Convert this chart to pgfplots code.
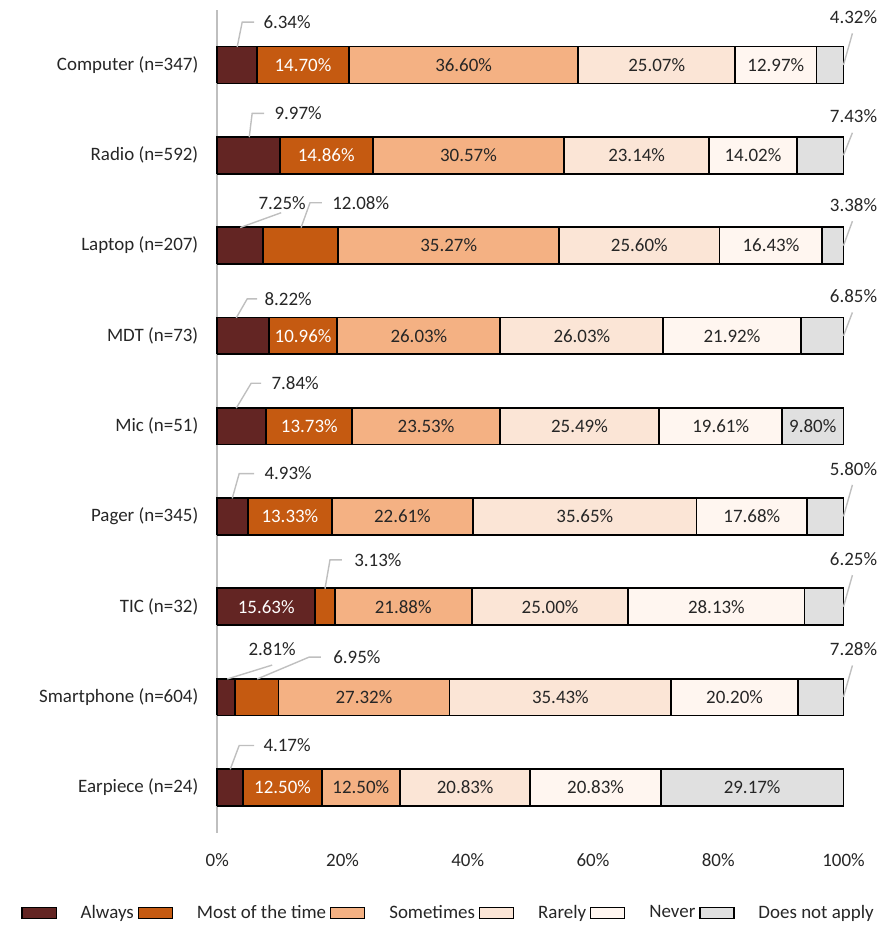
\documentclass[border=0pt]{standalone}
\usepackage{fontspec}
\setmainfont{Carlito}
\usepackage{pgfplots}
\pgfplotsset{compat=1.18}

\definecolor{cAlways}{HTML}{632523}
\definecolor{cMost}{HTML}{C55A11}
\definecolor{cSome}{HTML}{F4B183}
\definecolor{cRare}{HTML}{FBE5D6}
\definecolor{cNever}{HTML}{FFF6F0}
\definecolor{cDna}{HTML}{E0E0E0}
\definecolor{cLead}{HTML}{BFBFBF}
\definecolor{cTxt}{HTML}{262626}

% one segment: colour, left, right, bottom, top
\newcommand{\seg}[5]{\addplot[fill=#1, draw=black, line width=0.9pt, line join=miter, forget plot] coordinates {(#2,#4) (#3,#4) (#3,#5) (#2,#5) (#2,#4)};}
% one stacked row: bottom, top, then the running totals of the six shares
\newcommand{\barrow}[8]{%
  \seg{cAlways}{0}{#3}{#1}{#2}\seg{cMost}{#3}{#4}{#1}{#2}\seg{cSome}{#4}{#5}{#1}{#2}%
  \seg{cRare}{#5}{#6}{#1}{#2}\seg{cNever}{#6}{#7}{#1}{#2}\seg{cDna}{#7}{#8}{#1}{#2}}
\newcommand{\inw}[3]{\node[text=white, inner sep=0pt] at (axis cs:#1,#2) {#3\%};}
\newcommand{\inb}[3]{\node[text=cTxt, inner sep=0pt] at (axis cs:#1,#2) {#3\%};}
\newcommand{\outw}[3]{\node[text=cTxt, inner sep=1pt, anchor=west] at (axis cs:#1,#2) {#3\%};}
\newcommand{\outc}[3]{\node[text=cTxt, inner sep=1pt] at (axis cs:#1,#2) {#3\%};}

\begin{document}
\begin{tikzpicture}[font=\fontsize{9.5}{11}\selectfont]
% rows: 8 = Computer (top) ... 0 = Earpiece (bottom)
\begin{axis}[
  scale only axis, width=314pt, height=407.5pt, clip=false,
  xmin=0, xmax=100, ymin=-0.5, ymax=8.5,
  ytick={0,1,2,3,4,5,6,7,8},
  yticklabels={Earpiece (n=24),Smartphone (n=604),TIC (n=32),Pager (n=345),Mic (n=51),MDT (n=73),Laptop (n=207),Radio (n=592),Computer (n=347)},
  xtick={0,20,40,60,80,100},
  xticklabels={0\%,20\%,40\%,60\%,80\%,100\%},
  axis line style={draw=none},
  major tick length=0pt,
  tick label style={text=cTxt},
  yticklabel style={xshift=-6pt},
  xticklabel style={yshift=-7pt},
  legend style={at={(0.371,-0.099)}, anchor=center, draw=none, text=cTxt,
    /tikz/every odd column/.append style={column sep=10pt}},
  legend columns=6,
]
\draw[cLead, line width=0.8pt] (axis cs:0,-0.5) -- (axis cs:0,8.61);

% running totals (%) of Always, Most of the time, Sometimes, Rarely, Never, Does not apply
\barrow{7.796}{8.204}{6.34}{21.04}{57.64}{82.71}{95.68}{100}
\barrow{6.796}{7.204}{9.97}{24.83}{55.40}{78.54}{92.56}{100}
\barrow{5.796}{6.204}{7.25}{19.33}{54.60}{80.20}{96.63}{100}
\barrow{4.796}{5.204}{8.22}{19.18}{45.21}{71.24}{93.16}{100}
\barrow{3.796}{4.204}{7.84}{21.57}{45.10}{70.59}{90.20}{100}
\barrow{2.796}{3.204}{4.93}{18.26}{40.87}{76.52}{94.20}{100}
\barrow{1.796}{2.204}{15.63}{18.76}{40.64}{65.64}{93.77}{100}
\barrow{0.796}{1.204}{2.81}{9.76}{37.08}{72.51}{92.71}{100}
\barrow{-0.204}{0.204}{4.17}{16.67}{29.17}{50.00}{70.83}{100}

\addlegendimage{area legend, fill=cAlways, draw=black, line width=0.6pt}
\addlegendentry{Always}
\addlegendimage{area legend, fill=cMost, draw=black, line width=0.6pt}
\addlegendentry{Most of the time}
\addlegendimage{area legend, fill=cSome, draw=black, line width=0.6pt}
\addlegendentry{Sometimes}
\addlegendimage{area legend, fill=cRare, draw=black, line width=0.6pt}
\addlegendentry{Rarely}
\addlegendimage{area legend, fill=cNever, draw=black, line width=0.6pt}
\addlegendentry{Never}
\addlegendimage{area legend, fill=cDna, draw=black, line width=0.6pt}
\addlegendentry{Does not apply}

% values inside the segments
\inw{13.69}{8}{14.70}\inb{39.34}{8}{36.60}\inb{70.175}{8}{25.07}\inb{89.195}{8}{12.97}
\inw{17.40}{7}{14.86}\inb{40.115}{7}{30.57}\inb{66.97}{7}{23.14}\inb{85.55}{7}{14.02}
\inb{36.965}{6}{35.27}\inb{67.40}{6}{25.60}\inb{88.415}{6}{16.43}
\inw{13.70}{5}{10.96}\inb{32.195}{5}{26.03}\inb{58.225}{5}{26.03}\inb{82.20}{5}{21.92}
\inw{14.705}{4}{13.73}\inb{33.335}{4}{23.53}\inb{57.845}{4}{25.49}\inb{80.395}{4}{19.61}\inb{95.10}{4}{9.80}
\inw{11.595}{3}{13.33}\inb{29.565}{3}{22.61}\inb{58.695}{3}{35.65}\inb{85.36}{3}{17.68}
\inw{7.815}{2}{15.63}\inb{29.70}{2}{21.88}\inb{53.14}{2}{25.00}\inb{79.705}{2}{28.13}
\inb{23.42}{1}{27.32}\inb{54.795}{1}{35.43}\inb{82.61}{1}{20.20}
\inw{10.42}{0}{12.50}\inb{22.92}{0}{12.50}\inb{39.585}{0}{20.83}\inb{60.415}{0}{20.83}\inb{85.415}{0}{29.17}

% leader lines for the small shares
\draw[cLead, line width=0.7pt] (axis cs:3.18,8.2) -- (axis cs:3.98,8.475) -- (axis cs:5.89,8.475);
\draw[cLead, line width=0.7pt] (axis cs:5.10,7.2) -- (axis cs:5.57,7.464) -- (axis cs:7.48,7.464);
\draw[cLead, line width=0.7pt] (axis cs:3.66,6.2) -- (axis cs:10.2,6.364);
\draw[cLead, line width=0.7pt] (axis cs:13.38,6.2) -- (axis cs:14.81,6.475) -- (axis cs:16.72,6.475);
\draw[cLead, line width=0.7pt] (axis cs:3.03,5.2) -- (axis cs:4.78,5.41) -- (axis cs:6.37,5.41);
\draw[cLead, line width=0.7pt] (axis cs:3.03,4.2) -- (axis cs:5.41,4.475) -- (axis cs:7.01,4.475);
\draw[cLead, line width=0.7pt] (axis cs:2.39,3.2) -- (axis cs:3.5,3.475) -- (axis cs:5.89,3.475);
\draw[cLead, line width=0.7pt] (axis cs:17.2,2.2) -- (axis cs:18.0,2.52) -- (axis cs:19.9,2.52);
\draw[cLead, line width=0.7pt] (axis cs:1.59,1.2) -- (axis cs:8.76,1.354);
\draw[cLead, line width=0.7pt] (axis cs:6.37,1.2) -- (axis cs:14.65,1.442) -- (axis cs:16.56,1.442);
\draw[cLead, line width=0.7pt] (axis cs:2.07,0.2) -- (axis cs:3.5,0.464) -- (axis cs:5.89,0.464);
\draw[cLead, line width=0.7pt] (axis cs:100,8) -- (axis cs:101.43,8.35);
\draw[cLead, line width=0.7pt] (axis cs:100,7) -- (axis cs:101.43,7.25);
\draw[cLead, line width=0.7pt] (axis cs:100,6) -- (axis cs:101.43,6.27);
\draw[cLead, line width=0.7pt] (axis cs:100,5) -- (axis cs:101.43,5.26);
\draw[cLead, line width=0.7pt] (axis cs:100,3) -- (axis cs:101.43,3.35);
\draw[cLead, line width=0.7pt] (axis cs:100,2) -- (axis cs:101.43,2.35);
\draw[cLead, line width=0.7pt] (axis cs:100,1) -- (axis cs:101.43,1.35);

\outw{7.0}{8.475}{6.34}
\outw{8.76}{7.464}{9.97}
\outc{10.35}{6.475}{7.25}
\outw{18.0}{6.475}{12.08}
\outw{7.17}{5.41}{8.22}
\outw{8.28}{4.475}{7.84}
\outw{7.17}{3.475}{4.93}
\outw{21.5}{2.52}{3.13}
\outc{8.76}{1.53}{2.81}
\outw{18.15}{1.442}{6.95}
\outw{7.0}{0.464}{4.17}
\outc{101.6}{8.53}{4.32}
\outc{101.6}{7.43}{7.43}
\outc{101.6}{6.45}{3.38}
\outc{101.6}{5.44}{6.85}
\outc{101.6}{3.53}{5.80}
\outc{101.6}{2.53}{6.25}
\outc{101.6}{1.53}{7.28}

\path (axis cs:-34.7,-1.538) (axis cs:108.3,8.72);
\end{axis}
\end{tikzpicture}
\end{document}
